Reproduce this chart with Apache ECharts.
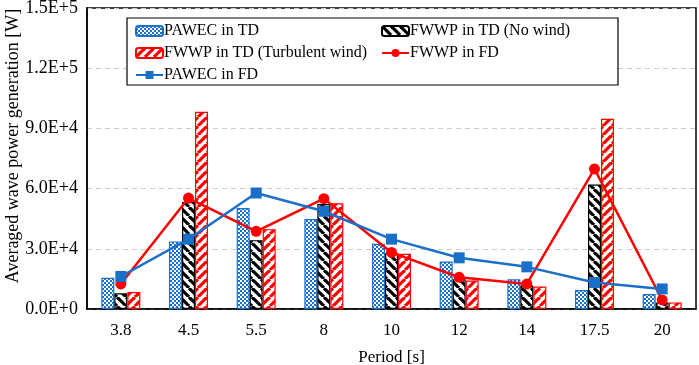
<!DOCTYPE html>
<html>
<head>
<meta charset="utf-8">
<script src="https://cdn.jsdelivr.net/npm/echarts@6/dist/echarts.min.js"></script>
<style>
  html, body { margin: 0; padding: 0; background: #fff; }
  #main { width: 699px; height: 365px; }
</style>
</head>
<body>
<div id="main"></div>
<script>
var periods = ['3.8', '4.5', '5.5', '8', '10', '12', '14', '17.5', '20'];
var pawecTD = [15600, 33700, 50300, 44800, 32500, 23700, 14800, 9500, 7500];
var fwwpNoWind = [7800, 53300, 34300, 52300, 27800, 14800, 11700, 62000, 3200];
var fwwpTurb = [8500, 98300, 39800, 52700, 27500, 14200, 11200, 94800, 3300];
var fwwpFD = [12500, 55300, 38700, 55000, 28200, 15800, 12500, 69800, 4500];
var pawecFD = [16200, 34800, 57800, 48700, 34800, 25500, 21000, 13200, 10000];
var yTicks = [0, 30000, 60000, 90000, 120000, 150000];

var BLUE = '#1a6fc9';
var RED = '#ff0000';
var font = '"Liberation Serif", "Times New Roman", serif';

function checker(color) {
    var c = document.createElement('canvas');
    c.width = 4; c.height = 4;
    var g = c.getContext('2d');
    g.fillStyle = color;
    g.fillRect(0, 0, 4, 4);
    g.fillStyle = '#ffffff';
    g.fillRect(0, 0, 2, 2);
    g.fillRect(2, 2, 2, 2);
    return c;
}

function stripes(color, back) {
    var c = document.createElement('canvas');
    c.width = 9; c.height = 9;
    var g = c.getContext('2d');
    g.fillStyle = '#ffffff';
    g.fillRect(0, 0, 9, 9);
    g.strokeStyle = color;
    g.lineWidth = 3.2;
    for (var k = -9; k <= 9; k += 9) {
        g.beginPath();
        if (back) { g.moveTo(k, 0); g.lineTo(k + 9, 9); }
        else { g.moveTo(k, 9); g.lineTo(k + 9, 0); }
        g.stroke();
    }
    return c;
}

var myChart = echarts.init(document.getElementById('main'));

var option = {
    animation: false,
    textStyle: { fontFamily: font },
    grid: {
        left: 87, right: 3, top: 8, bottom: 56,
        outerBoundsMode: 'none',
        containLabel: false,
        show: true, borderColor: '#000', borderWidth: 1.5
    },
    graphic: [{
        type: 'rect', z: 5,
        shape: { x: 127, y: 18, width: 491, height: 67 },
        style: { fill: '#fff', stroke: '#000', lineWidth: 1.2 }
    }, {
        type: 'text', z: 5,
        x: 13, y: 146, rotation: Math.PI / 2,
        style: {
            text: 'Averaged wave power generation [W]',
            font: '18px ' + font, fill: '#000',
            align: 'center', verticalAlign: 'middle'
        }
    }],
    legend: [{
        z: 10, orient: 'vertical', left: 130, top: 18, itemGap: 6,
        itemWidth: 27, itemHeight: 10,
        textStyle: { fontFamily: font, fontSize: 16, color: '#000', padding: [0, 0, 0, -4] },
        data: ['PAWEC in TD', 'FWWP in TD (Turbulent wind)', 'PAWEC in FD']
    }, {
        z: 10, orient: 'vertical', left: 376, top: 18, itemGap: 6,
        itemWidth: 27, itemHeight: 10,
        textStyle: { fontFamily: font, fontSize: 16, color: '#000', padding: [0, 0, 0, -4] },
        data: ['FWWP in TD (No wind)', 'FWWP in FD']
    }],
    xAxis: {
        type: 'category',
        data: periods,
        name: 'Period [s]',
        nameLocation: 'middle',
        nameGap: 40,
        nameTextStyle: { fontFamily: font, fontSize: 17, color: '#000' },
        axisLine: { lineStyle: { color: '#000', width: 1.5 } },
        axisTick: { show: false },
        axisLabel: { fontFamily: font, fontSize: 17, color: '#000', margin: 13 }
    },
    yAxis: {
        type: 'value',
        min: yTicks[0],
        max: yTicks[yTicks.length - 1],
        interval: yTicks[1] - yTicks[0],
        axisLine: { show: true, lineStyle: { color: '#000', width: 1.5 } },
        axisTick: { show: false },
        splitLine: { lineStyle: { color: '#cccccc', type: [5, 4], width: 1 } },
        axisLabel: {
            fontFamily: font, fontSize: 18, color: '#000', margin: 9,
            formatter: function (v) { return v.toExponential(1).toUpperCase(); }
        }
    },
    series: [{
        name: 'PAWEC in TD',
        type: 'bar',
        barWidth: 13,
        barGap: '0%',
        data: pawecTD,
        itemStyle: { color: { image: checker(BLUE), repeat: 'repeat' }, borderColor: BLUE, borderWidth: 1.2 }
    }, {
        name: 'FWWP in TD (No wind)',
        type: 'bar',
        barWidth: 13,
        barGap: '0%',
        data: fwwpNoWind,
        itemStyle: { color: { image: stripes('#000', true), repeat: 'repeat' }, borderColor: '#000', borderWidth: 1.2 }
    }, {
        name: 'FWWP in TD (Turbulent wind)',
        type: 'bar',
        barWidth: 13,
        barGap: '0%',
        data: fwwpTurb,
        itemStyle: { color: { image: stripes(RED, false), repeat: 'repeat' }, borderColor: RED, borderWidth: 1.2 }
    }, {
        name: 'FWWP in FD',
        type: 'line',
        z: 6,
        data: fwwpFD,
        symbol: 'circle',
        symbolSize: 11,
        lineStyle: { color: RED, width: 2.5 },
        itemStyle: { color: RED }
    }, {
        name: 'PAWEC in FD',
        type: 'line',
        z: 6,
        data: pawecFD,
        symbol: 'rect',
        symbolSize: 11,
        lineStyle: { color: BLUE, width: 2.5 },
        itemStyle: { color: BLUE }
    }]
};

myChart.setOption(option);
</script>
</body>
</html>
